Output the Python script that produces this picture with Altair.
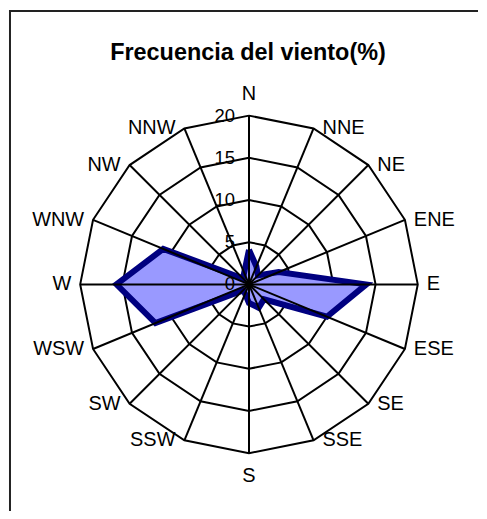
import altair as alt
import pandas as pd

# ---- data ----
directions = ["N", "NNE", "NE", "ENE", "E", "ESE", "SE", "SSE",
              "S", "SSW", "SW", "WSW", "W", "WNW", "NW", "NNW"]
freq = [4.1, 2.3, 1.5, 3.8, 13.9, 10.0, 2.5, 3.0,
        2.2, 1.2, 1.0, 12.0, 15.7, 11.0, 1.0, 1.5]
ring_values = [5, 10, 15, 20]
tick_values = [0, 5, 10, 15, 20]
tick_labels = ["0", "5", "10", "15", "20"]
title_text = "Frecuencia del viento(%)"

FONT = "Liberation Sans"
W, H = 471, 503

xs = alt.Scale(domain=[-28.437, 27.139], nice=False, zero=False)
ys = alt.Scale(domain=[-26.844, 32.507], nice=False, zero=False)

n = len(directions)
series_df = pd.DataFrame({
    "dir": directions + [directions[0]],
    "freq": freq + [freq[0]],
    "idx": list(range(n + 1)),
})

ring_rows = []
for r in ring_values:
    for i in range(n + 1):
        ring_rows.append({"r": r, "idx": i})
ring_df = pd.DataFrame(ring_rows)

dir_df = pd.DataFrame({"dir": directions, "idx": list(range(n))})
tick_df = pd.DataFrame({"v": tick_values, "label": tick_labels})

ang = "datum.idx * PI / 8"

rings = alt.Chart(ring_df).transform_calculate(
    a=ang, px="datum.r * sin(datum.a)", py="datum.r * cos(datum.a)"
).mark_line(stroke="black", strokeWidth=2).encode(
    x=alt.X("px:Q", scale=xs, axis=None),
    y=alt.Y("py:Q", scale=ys, axis=None),
    detail="r:N",
    order="idx:Q",
)

poly = alt.Chart(series_df).transform_calculate(
    a=ang, px="datum.freq * sin(datum.a)", py="datum.freq * cos(datum.a)"
).mark_line(fill="#9999FF", stroke="#000080", strokeWidth=6,
            strokeJoin="miter").encode(
    x=alt.X("px:Q", scale=xs, axis=None),
    y=alt.Y("py:Q", scale=ys, axis=None),
    order="idx:Q",
)

spokes = alt.Chart(dir_df).transform_calculate(
    a=ang, z="0", ex="20 * sin(datum.a)", ey="20 * cos(datum.a)"
).mark_rule(color="black", strokeWidth=2).encode(
    x=alt.X("z:Q", scale=xs, axis=None),
    y=alt.Y("z:Q", scale=ys, axis=None),
    x2="ex:Q",
    y2="ey:Q",
)

def labels(filter_expr, **mark_kw):
    return alt.Chart(dir_df).transform_filter(filter_expr).transform_calculate(
        a=ang, lx="20 * sin(datum.a)", ly="20 * cos(datum.a)"
    ).mark_text(font=FONT, fontSize=20, color="black", **mark_kw).encode(
        x=alt.X("lx:Q", scale=xs, axis=None),
        y=alt.Y("ly:Q", scale=ys, axis=None),
        text="dir:N",
    )

east = labels("datum.idx > 0 && datum.idx < 8", align="left", baseline="middle", dx=9)
west = labels("datum.idx > 8", align="right", baseline="middle", dx=-9)
north = labels("datum.idx == 0", align="center", baseline="middle", dy=-22)
south = labels("datum.idx == 8", align="center", baseline="middle", dy=23)

ticks = alt.Chart(tick_df).transform_calculate(z="0").mark_text(
    font=FONT, fontSize=18.5, color="black", align="right", baseline="middle", dx=-14
).encode(
    x=alt.X("z:Q", scale=xs, axis=None),
    y=alt.Y("v:Q", scale=ys, axis=None),
    text="label:N",
)

title = alt.Chart(pd.DataFrame({"t": [title_text]})).mark_text(
    font=FONT, fontSize=23.5, fontWeight="bold", color="black",
    align="center", baseline="middle"
).encode(x=alt.value(240), y=alt.value(43), text="t:N")

frame_left = alt.Chart(pd.DataFrame({"t": [0]})).mark_rule(
    color="#222222", strokeWidth=2
).encode(x=alt.value(1), y=alt.value(0), y2=alt.value(H))
frame_top = alt.Chart(pd.DataFrame({"t": [0]})).mark_rule(
    color="#222222", strokeWidth=2
).encode(y=alt.value(1), x=alt.value(0), x2=alt.value(W))

chart = alt.layer(
    rings, poly, spokes, east, west, north, south, ticks, title,
    frame_left, frame_top
).properties(width=W, height=H, padding=0, background="white").configure_view(
    stroke=None
)

chart.save("out.html", embed_options={"renderer": "svg", "actions": False})
